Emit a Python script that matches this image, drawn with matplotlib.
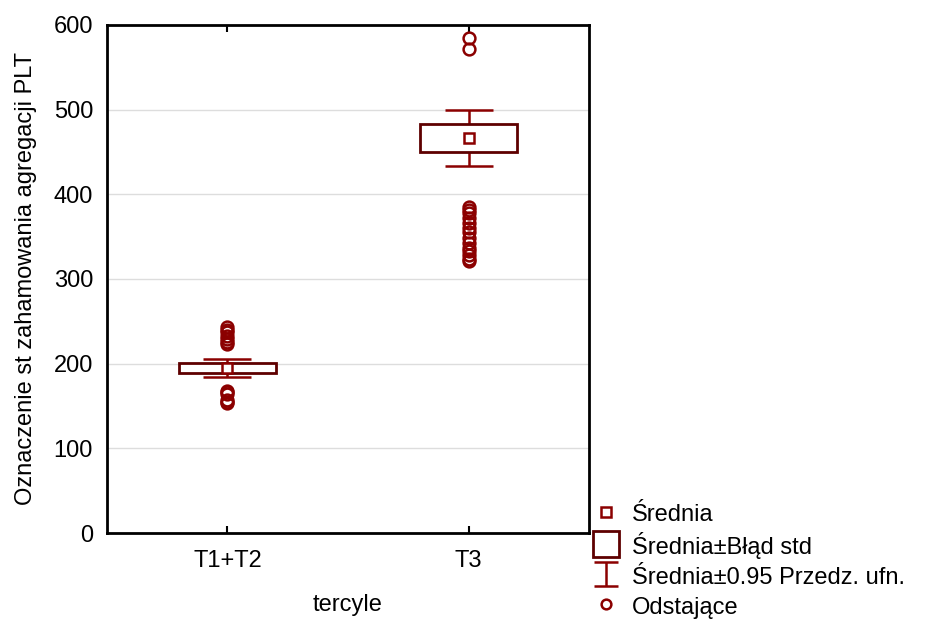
import numpy as np
import matplotlib.pyplot as plt
from matplotlib.lines import Line2D
from matplotlib.legend_handler import HandlerErrorbar

plt.rcParams['font.family'] = ['Liberation Sans', 'DejaVu Sans']

groups = ['T1+T2', 'T3']
means = [195.3, 467.0]
std_err = [5.9, 16.5]
ci95 = [10.5, 33.0]
outliers = [
    [243, 240, 237, 233, 229, 226, 223, 168, 166, 164, 157, 155, 153],
    [585, 572, 385, 382, 378, 372, 366, 360, 355, 348, 342, 337, 333, 328, 324, 321],
]

box_col = '#5e0000'
red = '#8b0000'

fig = plt.figure(figsize=(9.36, 6.24), dpi=100)
ax = fig.add_axes([0.1143, 0.1458, 0.5150, 0.8142])

x = np.arange(len(groups))
# whiskers = 95% CI
ax.errorbar(x, means, yerr=ci95, fmt='none', ecolor=red, elinewidth=1.8,
            capsize=17, capthick=1.8, zorder=2)
# box = mean +- std error
lo = [m - s for m, s in zip(means, std_err)]
ax.bar(x, [2 * s for s in std_err], bottom=lo, width=0.4, facecolor='white',
       edgecolor=box_col, linewidth=2, zorder=3)
ax.plot(x, means, 's', ms=7, mfc='white', mec=red, mew=1.8, zorder=4)
for i, vals in enumerate(outliers):
    ax.plot([x[i]] * len(vals), vals, 'o', ms=8.5, mfc='none', mec=red,
            mew=1.8, zorder=4)

ax.set_xlim(-0.5, 1.5)
ax.set_ylim(0, 600)
ax.set_yticks(range(0, 601, 100))
ax.set_xticks(x)
ax.set_xticklabels(groups)
ax.yaxis.grid(True, color='#dddddd', linewidth=1)
ax.set_axisbelow(True)
ax.tick_params(axis='x', direction='in', top=True, length=5, width=1.5,
               labelsize=17, pad=12)
ax.tick_params(axis='y', direction='in', length=0, labelsize=17, pad=10)
for sp in ax.spines.values():
    sp.set_linewidth(2)
ax.set_xlabel('tercyle', fontsize=17, labelpad=16)
ax.set_ylabel('Oznaczenie st zahamowania agregacji PLT', fontsize=17, labelpad=12)

# legend handles
h_mean = Line2D([], [], ls='none', marker='s', ms=7, mfc='white', mec=red, mew=1.8)
h_box = Line2D([], [], ls='none', marker='s', ms=19, mfc='white', mec=box_col, mew=2)
h_ci = ax.errorbar([np.nan], [np.nan], yerr=[1], fmt='none', ecolor=red,
                   elinewidth=1.8, capsize=8.3, capthick=1.8)
h_out = Line2D([], [], ls='none', marker='o', ms=7, mfc='white', mec=red, mew=1.8)
fig.legend([h_mean, h_box, h_ci, h_out],
           ['Średnia', 'Średnia±Błąd std', 'Średnia±0.95 Przedz. ufn.', 'Odstające'],
           loc='lower left', bbox_to_anchor=(0.625, -0.007), frameon=False,
           fontsize=17, handlelength=1.0, handleheight=1.1, handletextpad=0.6,
           labelspacing=0.24, borderaxespad=0,
           handler_map={h_ci: HandlerErrorbar(yerr_size=0.5)})

fig.savefig('out.png', dpi=100)
